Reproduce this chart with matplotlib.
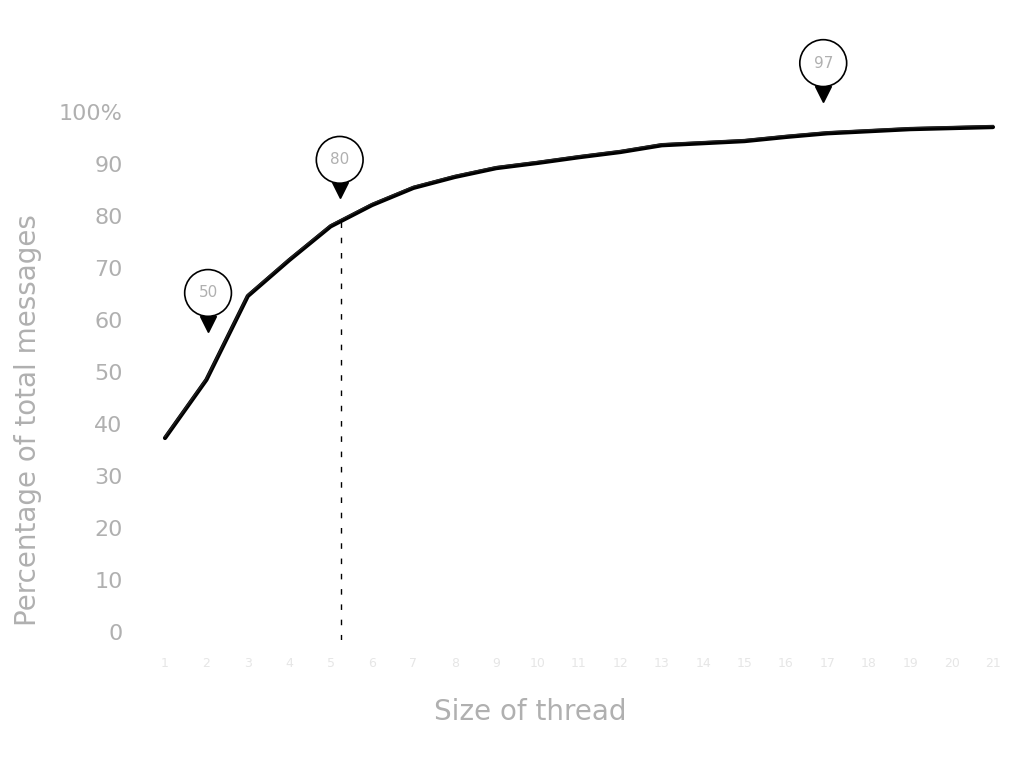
import matplotlib
matplotlib.use("Agg")
import matplotlib.pyplot as plt
from matplotlib.transforms import offset_copy

# ---- data ----
thread_size = list(range(1, 22))
cum_pct = [37.3, 48.5, 64.6, 71.5, 78.0, 82.1, 85.4, 87.5, 89.2, 90.2, 91.3,
           92.3, 93.6, 94.0, 94.4, 95.2, 95.9, 96.3, 96.7, 96.9, 97.1]
ytick_vals = [0, 10, 20, 30, 40, 50, 60, 70, 80, 90, 100]
ytick_labels = ["0", "10", "20", "30", "40", "50", "60", "70", "80", "90", "100%"]
pin_x = [2.04, 5.22, 16.9]
pin_y = [65.2, 90.8, 109.4]
pin_labels = ["50", "80", "97"]
marker_x = 5.25
marker_y = 79.6

fig = plt.figure(figsize=(10.24, 7.68), dpi=100)
ax = fig.add_axes([145/1024, 1-640/768, (1000-145)/1024, (640-112)/768])
ax.set_xlim(0.517, 21.17)
ax.set_ylim(-1.54, 100)

grey = "#b0b0b0"

ax.plot(thread_size, cum_pct, color="black", lw=3.0, solid_capstyle="round", zorder=3)
ax.plot(thread_size, [v + 0.3 for v in cum_pct], color="#222222", lw=1.0, zorder=3)

ax.vlines(marker_x, -1.54, marker_y, colors="black", linestyles=(0, (4, 7)), lw=1)

for x, y, lab in zip(pin_x, pin_y, pin_labels):
    tr = offset_copy(ax.transData, fig=fig, x=0, y=-22, units="points")
    ax.plot([x], [y], marker="v", color="black", markersize=12, transform=tr,
            clip_on=False, zorder=4)
    ax.annotate(lab, xy=(x, y), xytext=(0, 0), textcoords="offset points",
                ha="center", va="center", fontsize=11, color=grey,
                bbox=dict(boxstyle="circle,pad=0.9", fc="white", ec="black", lw=1.2),
                annotation_clip=False, zorder=5)

ax.set_yticks(ytick_vals)
ax.set_yticklabels(ytick_labels, color=grey, fontsize=16)
ax.set_xticks(thread_size)
ax.set_xticklabels([str(t) for t in thread_size], color="#e6e6e6", fontsize=9)
ax.tick_params(axis="y", length=0, pad=16)
ax.tick_params(axis="x", length=0, pad=12)
for s in ax.spines.values():
    s.set_visible(False)

ax.set_ylabel("Percentage of total messages", color=grey, fontsize=20, va="center")
ax.yaxis.set_label_coords(-(145-28)/855, (640-420)/528)
ax.set_xlabel("Size of thread", color=grey, fontsize=20, va="center")
ax.xaxis.set_label_coords((530-145)/855, -(712-640)/528)

fig.savefig("out.png", dpi=100, facecolor="white")
